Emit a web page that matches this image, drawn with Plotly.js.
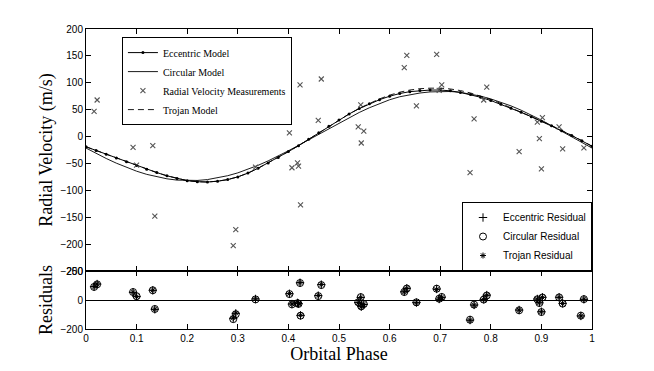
<!DOCTYPE html>
<html>
<head>
<meta charset="utf-8">
<script src="https://cdn.plot.ly/plotly-3.0.1.min.js"></script>
<style>html,body{margin:0;padding:0;background:#fff;}#chart{width:654px;height:371px;}</style>
</head>
<body>
<div id="chart"></div>
<script>
// Model curves sampled in orbital phase
const modelPhase = [0,0.02,0.04,0.06,0.08,0.10,0.12,0.14,0.16,0.18,0.20,0.22,0.24,0.26,0.28,0.30,0.32,0.34,0.36,0.38,0.40,0.42,0.44,0.46,0.48,0.50,0.52,0.54,0.56,0.58,0.60,0.62,0.64,0.66,0.68,0.70,0.72,0.74,0.76,0.78,0.80,0.82,0.84,0.86,0.88,0.90,0.92,0.94,0.96,0.98,1.00];
const eccentricModel = [-19,-26,-33,-40,-47,-54,-61,-67,-73,-78,-82,-84,-84.5,-83,-80,-75,-68,-59,-49,-39,-28,-17,-5,7,19,31,42,52,61,68.5,75,80,83.5,85.5,86.5,86.5,85,82,78,73,67,60,52.5,45,37,28.5,20,11,2,-8,-18];
const circularModel = [-21.4,-31.4,-40.8,-49.5,-57.4,-64.4,-70.3,-75.1,-78.6,-81,-82,-81.6,-80,-77,-72.8,-67.5,-61,-53.5,-45.2,-36.1,-26.5,-16.3,-5.9,4.6,15.1,25.4,35.4,44.8,53.5,61.4,68.4,74,78,81,83,84,83.8,82.2,79.2,75.2,70,64,57,49,40,30.5,20.3,9.9,-0.6,-11,-21.4];
const trojanModel = [-19,-26,-33,-40,-47,-54,-61,-67,-73,-78,-82,-84,-84.5,-83,-80,-75,-68,-59,-49,-39,-28,-17,-5,7,19,31,42,52.5,62,70,77,82.5,86.5,89,90,90,88.5,85.5,81,75.5,69,61.5,53.5,45.5,37.5,29,20.5,11.5,2.5,-7.5,-18];

// Radial velocity measurements
const measPhase = [0.016,0.022,0.093,0.100,0.132,0.136,0.291,0.296,0.335,0.402,0.407,0.418,0.420,0.423,0.424,0.459,0.465,0.538,0.543,0.544,0.549,0.629,0.634,0.653,0.693,0.698,0.703,0.759,0.767,0.786,0.792,0.856,0.892,0.896,0.900,0.902,0.935,0.942,0.978,0.984];
const measVelocity = [47,68,-20,-53,-17,-148,-203,-173,-57,7,-58,-49,-55,96,-127,30,107,18,59,-12,10,128,151,57,153,86,96,-67,33,68,92,-28,27,-4,-60,35,18,-23,-131,-21];

// Residuals (m/s) for each model
const eccentricResidual = [92,110,53,23,67,-64,-126,-92,7,43,-28,-20,-25,119,-106,30,106,-18,18,-46,-30,57,81,-18,76,7,19,-138,-34,5,34,-69,7,-19,-81,19,19,-23,-110,5];
const circularResidual  = [90,108,55,26,67,-62,-132,-98,4,41,-30,-22,-27,117,-108,27,103,-16,20,-44,-28,55,79,-16,78,9,21,-136,-32,3,31,-71,5,-21,-83,17,18,-25,-108,6];
const trojanResidual    = [92,110,53,23,67,-64,-124,-90,8,44,-27,-19,-24,120,-105,31,107,-19,17,-47,-31,55,79,-21,73,4,16,-140,-36,3,32,-70,6,-20,-82,18,18,-24,-110,5];

const phaseTicks = [0,0.1,0.2,0.3,0.4,0.5,0.6,0.7,0.8,0.9,1];
const phaseTickText = ['0','0.1','0.2','0.3','0.4','0.5','0.6','0.7','0.8','0.9','1'];
const rvTicks = [-250,-200,-150,-100,-50,0,50,100,150,200];
const resTicks = [-200,0,200];

const serif = 'Liberation Serif, Times New Roman, serif';
const sans = 'Liberation Sans, Arial, Helvetica, sans-serif';

const traces = [
  {x: modelPhase, y: eccentricModel, name: 'Eccentric Model', mode: 'lines+markers',
   line: {color: '#000', width: 1}, marker: {color: '#000', size: 3}, xaxis: 'x', yaxis: 'y', legend: 'legend'},
  {x: modelPhase, y: circularModel, name: 'Circular Model', mode: 'lines',
   line: {color: '#000', width: 0.9}, xaxis: 'x', yaxis: 'y', legend: 'legend'},
  {x: measPhase, y: measVelocity, name: 'Radial Velocity Measurements', mode: 'markers',
   marker: {symbol: 'x-thin-open', size: 5, color: '#555', line: {color: '#555', width: 1.1}}, xaxis: 'x', yaxis: 'y', legend: 'legend'},
  {x: modelPhase, y: trojanModel, name: 'Trojan Model', mode: 'lines',
   line: {color: '#000', width: 0.9, dash: '6px,4px'}, xaxis: 'x', yaxis: 'y', legend: 'legend'},
  {x: measPhase, y: eccentricResidual, name: 'Eccentric Residual', mode: 'markers',
   marker: {symbol: 'cross-thin-open', size: 6, color: '#000', line: {color: '#000', width: 1}}, xaxis: 'x2', yaxis: 'y2', legend: 'legend2'},
  {x: measPhase, y: circularResidual, name: 'Circular Residual', mode: 'markers',
   marker: {symbol: 'circle-open', size: 7, color: '#000', line: {color: '#000', width: 1}}, xaxis: 'x2', yaxis: 'y2', legend: 'legend2'},
  {x: measPhase, y: trojanResidual, name: 'Trojan Residual', mode: 'markers',
   marker: {symbol: 'asterisk-open', size: 5, color: '#000', line: {color: '#000', width: 1}}, xaxis: 'x2', yaxis: 'y2', legend: 'legend2'}
];

const split = 58 / 300;
const axisCommon = {showline: true, linecolor: '#000', linewidth: 1, mirror: 'ticks', ticks: 'inside', ticklen: 5,
  tickcolor: '#000', showgrid: false, zeroline: false, tickfont: {family: sans, size: 10, color: '#000'}};

const layout = {
  width: 654, height: 371,
  margin: {l: 86, r: 62, t: 29, b: 42},
  paper_bgcolor: '#fff', plot_bgcolor: '#fff',
  showlegend: true,
  xaxis: Object.assign({}, axisCommon, {domain: [0, 1], range: [0, 1], anchor: 'y', tickvals: phaseTicks, showticklabels: false}),
  yaxis: Object.assign({}, axisCommon, {domain: [split, 1], range: [-250, 200], anchor: 'x', tickvals: rvTicks,
    title: {text: 'Radial Velocity (m/s)', font: {family: serif, size: 18, color: '#000'}, standoff: 3}}),
  xaxis2: Object.assign({}, axisCommon, {domain: [0, 1], range: [0, 1], anchor: 'y2', tickvals: phaseTicks, ticktext: phaseTickText,
    title: {text: 'Orbital Phase', font: {family: serif, size: 18, color: '#000'}, standoff: 1}}),
  yaxis2: Object.assign({}, axisCommon, {domain: [0, split], range: [-200, 200], anchor: 'x2', tickvals: resTicks,
    zeroline: true, zerolinecolor: '#000', zerolinewidth: 1,
    title: {text: 'Residuals', font: {family: serif, size: 18, color: '#000'}, standoff: 3}}),
  legend: {x: 0.071, y: 0.973, xanchor: 'left', yanchor: 'top', bgcolor: '#fff', bordercolor: '#000', borderwidth: 1,
    font: {family: serif, size: 10, color: '#000'}, itemwidth: 30, tracegroupgap: 0, traceorder: 'normal'},
  legend2: {x: 1, y: split, xanchor: 'right', yanchor: 'bottom', bgcolor: '#fff', bordercolor: '#000', borderwidth: 1,
    font: {family: sans, size: 10, color: '#000'}, itemwidth: 30, tracegroupgap: 0, traceorder: 'normal'}
};

Plotly.newPlot('chart', traces, layout, {displayModeBar: false, staticPlot: true});
</script>
</body>
</html>
